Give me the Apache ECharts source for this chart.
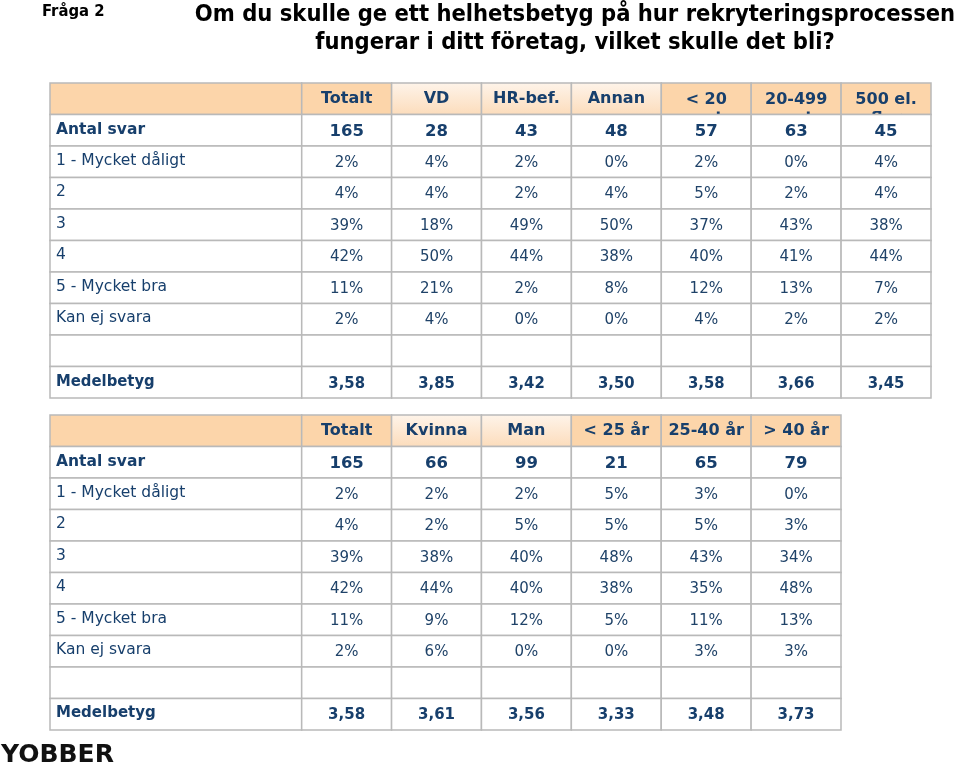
<!DOCTYPE html>
<html><head><meta charset="utf-8">
<script src="https://cdn.jsdelivr.net/npm/echarts@6/dist/echarts.min.js"></script>
<style>html,body{margin:0;padding:0;background:#fff}#c{width:959px;height:767px}</style>
</head><body><div id="c"></div>
<script>
// ---- Table 1 data ----
const t1Columns = ['Totalt', 'VD', 'HR-bef.', 'Annan', '< 20\nanst.', '20-499\nanst.', '500 el.\nfler'];
const t1Light = [false, true, true, true, false, false, false];
const t1Antal = [165, 28, 43, 48, 57, 63, 45];
const rowLabels = ['1 - Mycket dåligt', '2', '3', '4', '5 - Mycket bra', 'Kan ej svara'];
const t1Row1 = [2, 4, 2, 0, 2, 0, 4];
const t1Row2 = [4, 4, 2, 4, 5, 2, 4];
const t1Row3 = [39, 18, 49, 50, 37, 43, 38];
const t1Row4 = [42, 50, 44, 38, 40, 41, 44];
const t1Row5 = [11, 21, 2, 8, 12, 13, 7];
const t1KanEj = [2, 4, 0, 0, 4, 2, 2];
const t1Medel = [3.58, 3.85, 3.42, 3.50, 3.58, 3.66, 3.45];

// ---- Table 2 data ----
const t2Columns = ['Totalt', 'Kvinna', 'Man', '< 25 år', '25-40 år', '> 40 år'];
const t2Light = [false, true, true, false, false, false];
const t2Antal = [165, 66, 99, 21, 65, 79];
const t2Row1 = [2, 2, 2, 5, 3, 0];
const t2Row2 = [4, 2, 5, 5, 5, 3];
const t2Row3 = [39, 38, 40, 48, 43, 34];
const t2Row4 = [42, 44, 40, 38, 35, 48];
const t2Row5 = [11, 9, 12, 5, 11, 13];
const t2KanEj = [2, 6, 0, 0, 3, 3];
const t2Medel = [3.58, 3.61, 3.56, 3.33, 3.48, 3.73];

const NAVY = '#173f6c';
const PEACH = '#fcd5aa';
const BORDER = '#b9b9b9';
const LABEL_W = 2.8; // label column width in column units

function lightFill() {
  return new echarts.graphic.LinearGradient(0, 0, 0, 1, [
    { offset: 0, color: '#fef4ea' }, { offset: 1, color: '#fcdcbb' }
  ]);
}

function buildTable(cols, light, antal, rows, medel, medelFont) {
  const head = [], body = [];
  head.push({ x0: -LABEL_W, x1: 0, row: 0, text: '', fill: PEACH, kind: 'head' });
  cols.forEach((c, i) => head.push({ x0: i, x1: i + 1, row: 0, text: c, fill: light[i] ? lightFill() : PEACH, kind: 'head' }));
  body.push({ x0: -LABEL_W, x1: 0, row: 1, text: 'Antal svar', kind: 'boldLabel' });
  antal.forEach((v, i) => body.push({ x0: i, x1: i + 1, row: 1, text: String(v), kind: 'boldVal' }));
  rows.forEach((r, k) => {
    body.push({ x0: -LABEL_W, x1: 0, row: 2 + k, text: rowLabels[k], kind: 'label' });
    r.forEach((v, i) => body.push({ x0: i, x1: i + 1, row: 2 + k, text: v + '%', kind: 'val' }));
  });
  body.push({ x0: -LABEL_W, x1: 0, row: 8, text: '', kind: 'label' });
  cols.forEach((c, i) => body.push({ x0: i, x1: i + 1, row: 8, text: '', kind: 'val' }));
  body.push({ x0: -LABEL_W, x1: 0, row: 9, text: 'Medelbetyg', kind: 'medelLabel', font: medelFont.label });
  medel.forEach((v, i) => body.push({ x0: i, x1: i + 1, row: 9, text: v.toFixed(2).replace('.', ','), kind: 'medelVal', font: medelFont.val }));
  return { head, body };
}

const T1 = buildTable(t1Columns, t1Light, t1Antal, [t1Row1, t1Row2, t1Row3, t1Row4, t1Row5, t1KanEj], t1Medel,
  { label: 'bold 16.5px "DejaVu Sans Condensed"', val: 'bold 16.5px "DejaVu Sans Condensed"' });
const T2 = buildTable(t2Columns, t2Light, t2Antal, [t2Row1, t2Row2, t2Row3, t2Row4, t2Row5, t2KanEj], t2Medel,
  { label: 'bold 15px "DejaVu Sans"', val: 'bold 15px "DejaVu Sans"' });

function makeRender(cells) {
  return function (params, api) {
    const c = cells[params.dataIndex];
    const p0 = api.coord([c.x0, c.row]);
    const p1 = api.coord([c.x1, c.row + 1]);
    const x = p0[0], y = p0[1], w = p1[0] - p0[0], h = p1[1] - p0[1];
    const children = [{
      type: 'rect', shape: { x: x, y: y, width: w, height: h },
      style: { fill: c.fill || '#ffffff', stroke: BORDER, lineWidth: 1.5 }
    }];
    if (c.text) {
      let font, align = 'center', tx = x + w / 2, ty = y + h / 2, va = 'middle', fill = NAVY;
      switch (c.kind) {
        case 'head': font = 'bold 16px "DejaVu Sans"';
          if (c.text.indexOf('\n') >= 0) { va = 'top'; ty = y + 7; }
          break;
        case 'boldLabel': font = 'bold 15.5px "DejaVu Sans"'; align = 'left'; tx = x + 6; break;
        case 'boldVal': font = 'bold 16.5px "DejaVu Sans"'; ty += 1; break;
        case 'label': font = '15.5px "DejaVu Sans"'; align = 'left'; tx = x + 6; ty -= 1; break;
        case 'val': font = '15px "DejaVu Sans"'; fill = '#1f4268'; ty += 1; break;
        case 'medelLabel': font = c.font; align = 'left'; tx = x + 6; ty -= 1; break;
        case 'medelVal': font = c.font; ty += 1; break;
      }
      children.push({
        type: 'text',
        style: { x: tx, y: ty, text: c.text, font: font, fill: fill, align: align, verticalAlign: va, lineHeight: 19 }
      });
    }
    return { type: 'group', children: children };
  };
}

const chart = echarts.init(document.getElementById('c'));
function series(cells, idx, z) {
  return {
    type: 'custom', xAxisIndex: idx, yAxisIndex: idx, z: z, silent: true,
    renderItem: makeRender(cells),
    encode: { x: [0, 1], y: 2 },
    data: cells.map(c => [c.x0, c.x1, c.row])
  };
}
chart.setOption({
  animation: false,
  grid: [
    { left: 50, top: 83, width: 881, height: 315 },
    { left: 50, top: 415, width: 791, height: 315 }
  ],
  xAxis: [
    { type: 'value', gridIndex: 0, min: -LABEL_W, max: t1Columns.length, show: false },
    { type: 'value', gridIndex: 1, min: -LABEL_W, max: t2Columns.length, show: false }
  ],
  yAxis: [
    { type: 'value', gridIndex: 0, min: 0, max: 10, inverse: true, show: false },
    { type: 'value', gridIndex: 1, min: 0, max: 10, inverse: true, show: false }
  ],
  series: [
    series(T1.head, 0, 1), series(T1.body, 0, 2),
    series(T2.head, 1, 1), series(T2.body, 1, 2)
  ],
  graphic: [
    { type: 'text', left: 42, top: 3, style: { text: 'Fråga 2', font: 'bold 16.5px "DejaVu Sans Condensed"', fill: '#000' } },
    { type: 'text', x: 575, y: 1, style: { text: 'Om du skulle ge ett helhetsbetyg på hur rekryteringsprocessen\nfungerar i ditt företag, vilket skulle det bli?', font: 'bold 23.5px "DejaVu Sans Condensed"', fill: '#000', align: 'center', lineHeight: 28 } },
    { type: 'text', left: 1, top: 743, style: { text: 'YOBBER', font: '900 25px "DejaVu Sans"', fill: '#111' } }
  ]
});
</script></body></html>
